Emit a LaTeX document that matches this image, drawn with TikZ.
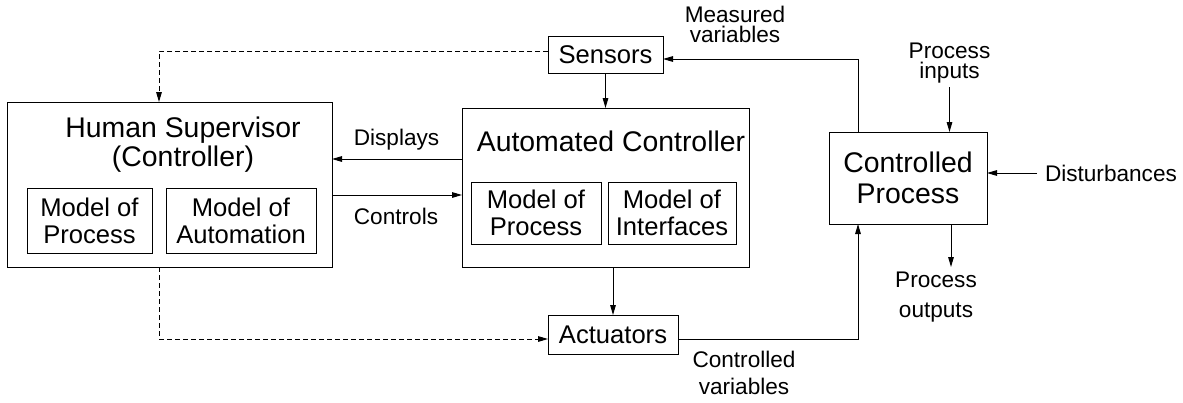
\documentclass[tikz,border=0pt]{standalone}
\usepackage{fontspec}
\setmainfont{Liberation Sans}
\usetikzlibrary{arrows.meta}

\begin{document}
\begin{tikzpicture}[
    x=0.5pt, y=-0.5pt,
    line width=0.5pt,
    every node/.style={inner sep=0pt, outer sep=0pt},
    block/.style={draw, align=center},
    big/.style={font=\fontsize{14.2pt}{14.5pt}\selectfont, align=center},
    mid/.style={font=\fontsize{12.8pt}{13.5pt}\selectfont, align=center},
    small/.style={font=\fontsize{11.3pt}{10pt}\selectfont, align=center},
    arrow/.style={-{Triangle[length=5pt, width=2.8pt]}},
    dasharrow/.style={arrow, dash pattern=on 2.5pt off 1.5pt}
  ]
  \useasboundingbox (0,0) rectangle (1183,402);

  % Human supervisor side
  \node[block, minimum width=162.5pt, minimum height=82.5pt] (hs) at (169.5,184.5) {};
  \node[big] (hstitle) at (183,145) {Human Supervisor\\(Controller)};
  \node[block, mid, minimum width=62.5pt, minimum height=32.5pt] (hsproc) at (89.5,220.5) {Model of\\Process};
  \node[block, mid, minimum width=75pt, minimum height=32.5pt] (hsauto) at (241,220.5) {Model of\\Automation};

  % Automated controller
  \node[block, minimum width=143.5pt, minimum height=79.5pt] (ac) at (605.5,187.5) {};
  \node[big] (actitle) at (611,141.6) {Automated Controller};
  \node[block, mid, minimum width=65pt, minimum height=31pt] (acproc) at (536,213) {Model of\\Process};
  \node[block, mid, minimum width=64pt, minimum height=31pt] (acintf) at (672,213) {Model of\\Interfaces};

  % Sensors, actuators and the process
  \node[block, mid, minimum width=57.5pt, minimum height=18.5pt] (sensors) at (605.5,54.5) {Sensors};
  \node[block, mid, minimum width=65pt, minimum height=19.5pt] (act) at (613,334.5) {Actuators};
  \node[block, big, font=\fontsize{14.2pt}{15.5pt}\selectfont, minimum width=79pt, minimum height=46pt] (cp) at (908,178) {Controlled\\Process};

  % Labels
  \node[small, anchor=base] (disp) at (396.5,145) {Displays};
  \node[small, anchor=base] (ctrl) at (396,224) {Controls};
  \node[small] (meas) at (735,24.7) {Measured\\variables};
  \node[small] (pin) at (949.5,63) {Process\\inputs};
  \node[small, anchor=west] (dist) at (1045,173) {Disturbances};
  \node[small, font=\fontsize{11.3pt}{15pt}\selectfont] (pout) at (936,297) {Process\\outputs};
  \node[small, font=\fontsize{11.3pt}{13.5pt}\selectfont] (cvar) at (744,373) {Controlled\\variables};

  % Supervisor links (dashed)
  \draw[dasharrow] ([yshift=1.75pt]sensors.west) -| ([xshift=-5.25pt]hs.north);
  \draw[dasharrow] ([xshift=-5.25pt]hs.south) |- ([yshift=-2.25pt]act.west);

  % Displays and controls
  \draw[arrow] ([yshift=14.25pt]ac.west) -- ([yshift=12.75pt]hs.east);
  \draw[arrow] ([yshift=-5.25pt]hs.east) -- ([yshift=-3.75pt]ac.west);

  % Control loop
  \draw[arrow] (sensors) -- (ac);
  \draw[arrow] ([xshift=3.75pt]ac.south) -- (act);
  \draw[arrow] ([xshift=-25pt]cp.north) |- ([yshift=-2.25pt]sensors.east);
  \draw[arrow] ([yshift=-2.25pt]act.east) -| ([xshift=-25pt]cp.south);

  % Process inputs, disturbances, outputs
  \draw[arrow] ([yshift=-2pt]pin.south) -- (pin.south |- cp.north);
  \draw[arrow] ([xshift=-4pt]dist.west) -- (dist.west -| cp.east);
  \draw[arrow] ([xshift=21.5pt]cp.south) -- ([xshift=21.5pt,yshift=-21.5pt]cp.south);

\end{tikzpicture}
\end{document}
